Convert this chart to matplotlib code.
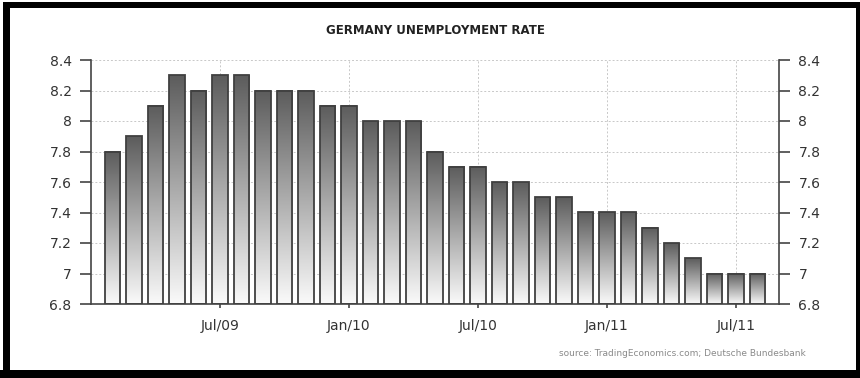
import numpy as np
import matplotlib
matplotlib.use("Agg")
from matplotlib import pyplot as plt
from matplotlib.colors import LinearSegmentedColormap
from matplotlib.patches import Rectangle

# monthly data, Feb/09 .. Aug/11
months = ["Feb/09", "Mar/09", "Apr/09", "May/09", "Jun/09", "Jul/09", "Aug/09", "Sep/09",
          "Oct/09", "Nov/09", "Dec/09", "Jan/10", "Feb/10", "Mar/10", "Apr/10", "May/10",
          "Jun/10", "Jul/10", "Aug/10", "Sep/10", "Oct/10", "Nov/10", "Dec/10", "Jan/11",
          "Feb/11", "Mar/11", "Apr/11", "May/11", "Jun/11", "Jul/11", "Aug/11"]
rate = [7.8, 7.9, 8.1, 8.3, 8.2, 8.3, 8.3, 8.2, 8.2, 8.2, 8.1, 8.1, 8.0, 8.0, 8.0, 7.8,
        7.7, 7.7, 7.6, 7.6, 7.5, 7.5, 7.4, 7.4, 7.4, 7.3, 7.2, 7.1, 7.0, 7.0, 7.0]
shown_ticks = ["Jul/09", "Jan/10", "Jul/10", "Jan/11", "Jul/11"]
yticks = [6.8, 7, 7.2, 7.4, 7.6, 7.8, 8, 8.2, 8.4]

W, H = 860, 378
fig = plt.figure(figsize=(W / 100, H / 100), dpi=100)
fig.patch.set_facecolor("white")

# black frame round the picture
for (x0, y0, x1, y1) in [(0, 370, 860, 378), (3, 2, 860, 8), (3, 2, 10, 378), (856, 2, 860, 378)]:
    fig.patches.append(Rectangle((x0 / W, 1 - y1 / H), (x1 - x0) / W, (y1 - y0) / H,
                                 transform=fig.transFigure, facecolor="black",
                                 edgecolor="none", zorder=10))

ax = fig.add_axes([91 / W, 1 - 304 / H, (779 - 91) / W, (304 - 60) / H])
x = np.arange(len(months))
ymin = 6.8

cmap = LinearSegmentedColormap.from_list("g", ["#fafafa", "#5c5c5c"])
grad = np.linspace(0, 1, 256).reshape(-1, 1)
width = 0.74
for xi, v in zip(x, rate):
    ax.imshow(grad, cmap=cmap, origin="lower", aspect="auto", zorder=2,
              extent=[xi - width / 2, xi + width / 2, ymin, v], interpolation="bilinear")
ax.bar(x, np.array(rate) - ymin, bottom=ymin, width=width, facecolor="none",
       edgecolor="#404040", linewidth=1.3, zorder=3)

ax.set_xlim(-1, len(months))
ax.set_ylim(ymin, 8.4)

tick_pos = [months.index(m) for m in shown_ticks]
ax.set_xticks(tick_pos)
ax.set_xticklabels(shown_ticks)
ax.set_yticks(yticks)
ylabels = [f"{t:g}" for t in yticks]
ax.set_yticklabels(ylabels)

ax.grid(True, color="#c8c8c8", linestyle=(0, (2, 2)), linewidth=0.7, zorder=0)
ax.set_axisbelow(True)

ax.spines["top"].set_visible(False)
for s in ["left", "right", "bottom"]:
    ax.spines[s].set_color("#444444")
    ax.spines[s].set_linewidth(1.2)
ax.tick_params(axis="y", which="both", direction="out", length=8, width=1.2,
               color="#444444", labelsize=10, labelcolor="#333333", pad=6,
               left=True, right=True, labelleft=True, labelright=True)
ax.tick_params(axis="x", direction="out", length=3, width=1.2, color="#444444",
               labelsize=10, labelcolor="#333333", pad=8)

fig.text(435 / W, 1 - 30 / H, "GERMANY UNEMPLOYMENT RATE", ha="center", va="center",
         fontsize=8.5, fontweight="bold", color="#222222")
fig.text(806 / W, 1 - 354 / H, "source: TradingEconomics.com; Deutsche Bundesbank",
         ha="right", va="center", fontsize=6.5, color="#8a8a8a")

fig.savefig("out.png", dpi=100)
